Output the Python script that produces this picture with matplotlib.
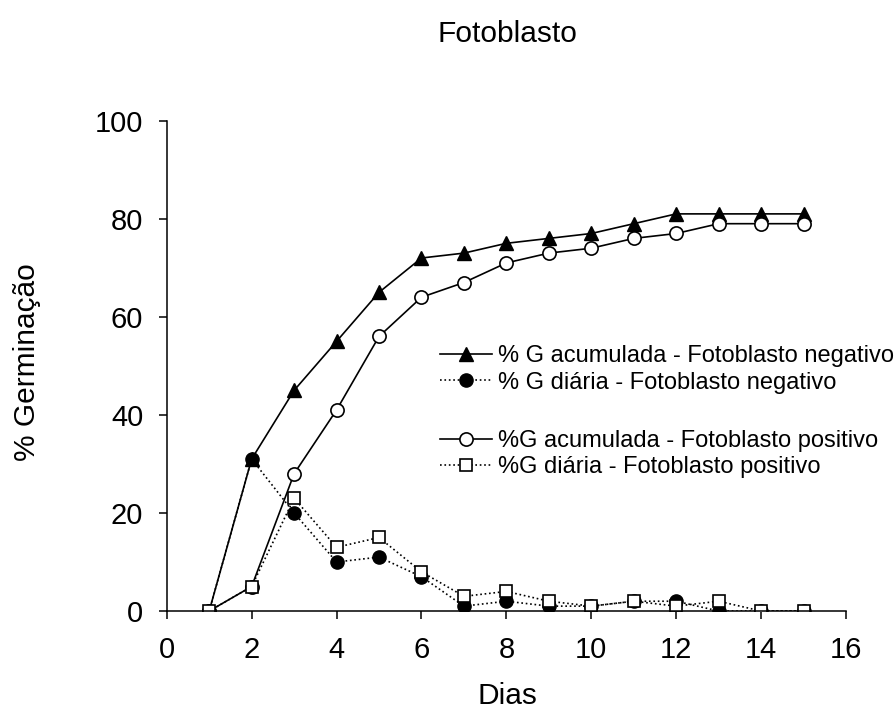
import matplotlib.pyplot as plt

plt.rcParams['font.family'] = ['Liberation Sans', 'DejaVu Sans']

# dados
dias = [1, 2, 3, 4, 5, 6, 7, 8, 9, 10, 11, 12, 13, 14, 15]
acum_neg = [0, 31, 45, 55, 65, 72, 73, 75, 76, 77, 79, 81, 81, 81, 81]
diaria_neg = [0, 31, 20, 10, 11, 7, 1, 2, 1, 1, 2, 2, 0, 0, 0]
acum_pos = [0, 5, 28, 41, 56, 64, 67, 71, 73, 74, 76, 77, 79, 79, 79]
diaria_pos = [0, 5, 23, 13, 15, 8, 3, 4, 2, 1, 2, 1, 2, 0, 0]

labels = ['% G acumulada - Fotoblasto negativo',
          '% G diária - Fotoblasto negativo',
          '%G acumulada - Fotoblasto positivo',
          '%G diária - Fotoblasto positivo']

fig = plt.figure(figsize=(8.95, 7.11), dpi=100)
ax = fig.add_axes([0.1863, 0.1406, 0.759, 0.6896])

l1, = ax.plot(dias, acum_neg, '-', color='black', lw=1.2, marker='^',
              ms=9.5, mfc='black', mec='black')
l2, = ax.plot(dias, diaria_neg, ':', color='black', lw=1.2, marker='o',
              ms=9.5, mfc='black', mec='black')
l3, = ax.plot(dias, acum_pos, '-', color='black', lw=1.2, marker='o',
              ms=9.5, mfc='white', mec='black', mew=1.2)
l4, = ax.plot(dias, diaria_pos, ':', color='black', lw=1.2, marker='s',
              ms=9, mfc='white', mec='black', mew=1.2)

ax.set_xlim(0, 16)
ax.set_ylim(0, 100)
ax.set_xticks(range(0, 17, 2))
ax.set_yticks(range(0, 101, 20))
ax.spines['top'].set_visible(False)
ax.spines['right'].set_visible(False)
ax.tick_params(direction='out', length=6, width=1.1, labelsize=21)
ax.tick_params(axis='x', pad=12)
ax.tick_params(axis='y', pad=11)
for sp in ax.spines.values():
    sp.set_linewidth(1.1)

fig.text(507 / 895, 1 - 41.7 / 711, 'Fotoblasto', fontsize=21.5,
         ha='center', va='baseline')
fig.text(507 / 895, 7 / 711, 'Dias', fontsize=21.5, ha='center', va='baseline')
fig.text(27 / 895, 1 - 362 / 711, '% Germinação', fontsize=21.5,
         rotation=90, ha='center', va='center')

leg_kw = dict(frameon=False, fontsize=17, handlelength=2.2, handletextpad=0.25,
              labelspacing=0.17, borderpad=0, borderaxespad=0,
              loc='center left', bbox_transform=fig.transFigure)
leg1 = ax.legend([l1, l2], labels[:2], bbox_to_anchor=(440 / 895, 1 - 369.5 / 711),
                 **leg_kw)
ax.add_artist(leg1)
ax.legend([l3, l4], labels[2:], bbox_to_anchor=(440 / 895, 1 - 454 / 711),
          **leg_kw)

fig.savefig('out.png', dpi=100)
